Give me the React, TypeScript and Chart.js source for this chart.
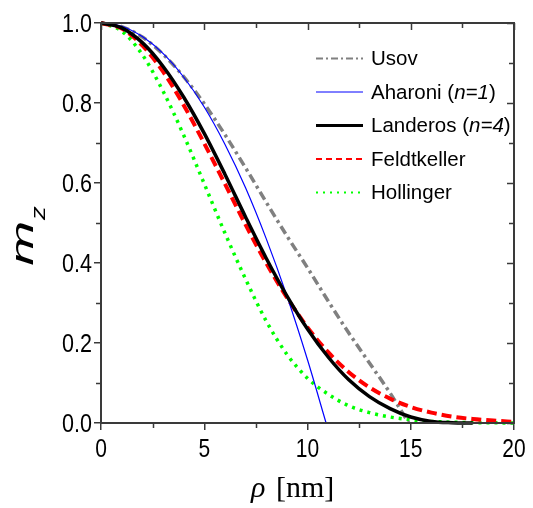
import React, { useEffect, useRef } from "react";
import { Chart, registerables } from "chart.js";

Chart.register(...registerables);

// ---- data ----
const usovRho = [0, 1, 2, 3, 4, 5, 6, 7, 8, 9, 10, 11, 12, 13, 14, 14.9];
const usovMz = [1, 0.991, 0.965, 0.922, 0.866, 0.798, 0.721, 0.638, 0.552, 0.468, 0.388, 0.305, 0.225, 0.15, 0.075, 0];

const aharoniRho = [0, 1, 2, 3, 4, 5, 6, 7, 8, 9, 10, 10.9];
const aharoniMz = [1, 0.992, 0.966, 0.924, 0.865, 0.79, 0.697, 0.588, 0.461, 0.318, 0.158, 0];

const landerosRho = [0, 1, 2, 3, 4, 5, 6, 7, 8, 9, 10, 11, 12, 13, 14, 15, 16, 17, 18];
const landerosMz = [1, 0.988, 0.951, 0.892, 0.815, 0.724, 0.622, 0.515, 0.412, 0.318, 0.235, 0.165, 0.108, 0.066, 0.036, 0.015, 0.004, 0.0008, 0];

const feldtkellerRho = [0, 1, 2, 3, 4, 5, 6, 7, 8, 9, 10, 11, 12, 13, 14, 15, 16, 17, 18, 19, 20];
const feldtkellerMz = [1, 0.986, 0.944, 0.879, 0.795, 0.699, 0.598, 0.496, 0.4, 0.314, 0.239, 0.177, 0.127, 0.089, 0.061, 0.04, 0.026, 0.016, 0.01, 0.006, 0.003];

const hollingerRho = [0, 1, 2, 3, 4, 5, 6, 7, 8, 9, 10, 11, 12, 13, 14, 15, 16, 17, 18, 19, 20];
const hollingerMz = [1, 0.98, 0.921, 0.83, 0.72, 0.598, 0.475, 0.36, 0.255, 0.172, 0.112, 0.072, 0.043, 0.026, 0.015, 0.008, 0.004, 0.002, 0.001, 0.0005, 0];

const seriesNames = ["Usov", "Aharoni (n=1)", "Landeros (n=4)", "Feldtkeller", "Hollinger"];
const xMajorTicks = [0, 5, 10, 15, 20];
const xMinorTicks = [2.5, 7.5, 12.5, 17.5];
const yMajorTicks = [0, 0.2, 0.4, 0.6, 0.8, 1.0];
const yMinorTicks = [0.1, 0.3, 0.5, 0.7, 0.9];
const xTickLabels = ["0", "5", "10", "15", "20"];
const yTickLabels = ["0.0", "0.2", "0.4", "0.6", "0.8", "1.0"];
const xTitleSymbol = "ρ";
const xTitleUnit = "[nm]";
const yTitleMain = "m";
const yTitleSub = "z";

const toPoints = (xs: number[], ys: number[]) => xs.map((x, i) => ({ x, y: ys[i] }));

const SANS = "'Liberation Sans', Arial, sans-serif";
const FRAME = "#3a3a3a";

const legendItems = [
  { parts: [{ t: "Usov", i: false }], color: "#808080", width: 2, dash: [7, 3, 2, 3] },
  { parts: [{ t: "Aharoni (", i: false }, { t: "n=1", i: true }, { t: ")", i: false }], color: "#0000ff", width: 1, dash: [] },
  { parts: [{ t: "Landeros (", i: false }, { t: "n=4", i: true }, { t: ")", i: false }], color: "#000000", width: 3, dash: [] },
  { parts: [{ t: "Feldtkeller", i: false }], color: "#ff0000", width: 2, dash: [6, 4] },
  { parts: [{ t: "Hollinger", i: false }], color: "#00ff00", width: 2, dash: [2, 5] },
];

const decorPlugin = {
  id: "decor",
  afterDraw(chart: any) {
    const { ctx, chartArea, scales } = chart;
    const xs = scales.x;
    const ys = scales.y;
    const { left, right, top, bottom } = chartArea;
    ctx.save();
    // frame
    ctx.strokeStyle = FRAME;
    ctx.lineWidth = 2;
    ctx.setLineDash([]);
    ctx.strokeRect(left, top, right - left, bottom - top);

    // minor outward ticks (left, bottom) and mirrored inward ticks (top, right)
    ctx.lineWidth = 1.5;
    ctx.beginPath();
    for (const v of xMinorTicks) {
      const px = Math.round(xs.getPixelForValue(v)) + 0.5;
      ctx.moveTo(px, bottom);
      ctx.lineTo(px, bottom + 5);
      ctx.moveTo(px, top);
      ctx.lineTo(px, top + 5);
    }
    for (const v of xMajorTicks) {
      const px = Math.round(xs.getPixelForValue(v)) + 0.5;
      ctx.moveTo(px, top);
      ctx.lineTo(px, top + 7);
    }
    for (const v of yMinorTicks) {
      const py = Math.round(ys.getPixelForValue(v)) + 0.5;
      ctx.moveTo(left, py);
      ctx.lineTo(left - 5, py);
      ctx.moveTo(right, py);
      ctx.lineTo(right - 5, py);
    }
    for (const v of yMajorTicks) {
      const py = Math.round(ys.getPixelForValue(v)) + 0.5;
      ctx.moveTo(right, py);
      ctx.lineTo(right - 7, py);
    }
    ctx.stroke();

    // tick labels (slightly condensed, like the original)
    ctx.fillStyle = "#000";
    ctx.font = "25px " + SANS;
    ctx.textBaseline = "alphabetic";
    xMajorTicks.forEach((v, k) => {
      const px = xs.getPixelForValue(v);
      ctx.save();
      ctx.translate(px, bottom + 34);
      ctx.scale(0.84, 1);
      ctx.textAlign = "center";
      ctx.fillText(xTickLabels[k], 0, 0);
      ctx.restore();
    });
    yMajorTicks.forEach((v, k) => {
      const py = ys.getPixelForValue(v);
      ctx.save();
      ctx.translate(left - 9, py + 9);
      ctx.scale(0.86, 1);
      ctx.textAlign = "right";
      ctx.fillText(yTickLabels[k], 0, 0);
      ctx.restore();
    });

    // legend
    const lx0 = right - 198;
    const lx1 = right - 151;
    const tx = right - 143;
    const rowY0 = top + 35.5;
    const rowStep = 33.5;
    ctx.textBaseline = "middle";
    ctx.textAlign = "left";
    legendItems.forEach((it, k) => {
      const y = rowY0 + k * rowStep;
      ctx.strokeStyle = it.color;
      ctx.lineWidth = it.width;
      ctx.setLineDash(it.dash);
      ctx.beginPath();
      ctx.moveTo(lx0, y);
      ctx.lineTo(lx1, y);
      ctx.stroke();
      ctx.setLineDash([]);
      let x = tx;
      ctx.fillStyle = "#000";
      for (const p of it.parts) {
        ctx.font = (p.i ? "italic " : "") + "20.5px " + SANS;
        ctx.fillText(p.t, x, y + 1);
        x += ctx.measureText(p.t).width;
      }
    });

    // x title
    ctx.fillStyle = "#000";
    ctx.textBaseline = "alphabetic";
    ctx.textAlign = "left";
    ctx.font = "italic 30px 'Liberation Serif', 'Times New Roman', serif";
    ctx.fillText(xTitleSymbol, 251, 497);
    ctx.font = "30px 'Liberation Serif', 'Times New Roman', serif";
    ctx.fillText(xTitleUnit, 276, 497);

    // y title (rotated)
    ctx.save();
    ctx.translate(33, 263);
    ctx.rotate(-Math.PI / 2);
    ctx.save();
    ctx.scale(1.35, 0.8);
    ctx.font = "italic 40px " + SANS;
    ctx.fillText(yTitleMain, -2, 0);
    ctx.restore();
    ctx.save();
    ctx.translate(43, 12);
    ctx.scale(1.2, 0.84);
    ctx.font = "italic 23px " + SANS;
    ctx.fillText(yTitleSub, 0, 0);
    ctx.restore();
    ctx.restore();

    ctx.restore();
  },
};

export default function App() {
  const ref = useRef<HTMLCanvasElement | null>(null);

  useEffect(() => {
    if (!ref.current) return;
    const common = { pointRadius: 0, pointHoverRadius: 0, fill: false, cubicInterpolationMode: "monotone" as const, clip: 3 };
    const chart = new Chart(ref.current, {
      type: "line",
      data: {
        datasets: [
          { ...common, label: seriesNames[0], data: toPoints(usovRho, usovMz), borderColor: "#808080", borderWidth: 3.5, borderDash: [9, 4, 3, 4], order: 3 },
          { ...common, label: seriesNames[1], data: toPoints(aharoniRho, aharoniMz), borderColor: "#0000ff", borderWidth: 1.2, order: 1 },
          { ...common, label: seriesNames[2], data: toPoints(landerosRho, landerosMz), borderColor: "#000000", borderWidth: 3.5, order: 0 },
          { ...common, label: seriesNames[3], data: toPoints(feldtkellerRho, feldtkellerMz), borderColor: "#ff0000", borderWidth: 4, borderDash: [10, 5], order: 2 },
          { ...common, label: seriesNames[4], data: toPoints(hollingerRho, hollingerMz), borderColor: "#00ff00", borderWidth: 3.5, borderDash: [3, 5], order: 4 },
        ],
      },
      options: {
        responsive: false,
        animation: false,
        events: [],
        layout: { padding: { top: 23, right: 19, left: 0, bottom: 0 } },
        plugins: { legend: { display: false }, tooltip: { enabled: false }, title: { display: false } },
        scales: {
          x: {
            type: "linear",
            min: 0,
            max: 20,
            afterFit: (s: any) => { s.height = 85; },
            afterBuildTicks: (s: any) => { s.ticks = xMajorTicks.map((v) => ({ value: v })); },
            ticks: { display: false },
            grid: { display: true, drawOnChartArea: false, drawTicks: true, tickLength: 7, color: FRAME, lineWidth: 1.5 },
            border: { display: true, color: FRAME, width: 2 },
          },
          y: {
            type: "linear",
            min: 0,
            max: 1,
            afterFit: (s: any) => { s.width = 101; },
            afterBuildTicks: (s: any) => { s.ticks = yMajorTicks.map((v) => ({ value: v })); },
            ticks: { display: false },
            grid: { display: true, drawOnChartArea: false, drawTicks: true, tickLength: 7, color: FRAME, lineWidth: 1.5 },
            border: { display: true, color: FRAME, width: 2 },
          },
        },
      },
      plugins: [decorPlugin],
    });
    return () => chart.destroy();
  }, []);

  return (
    <div style={{ position: "fixed", left: 0, top: 0, width: 533, height: 508, background: "#fff" }}>
      <canvas ref={ref} width={533} height={508} style={{ display: "block" }} />
    </div>
  );
}
